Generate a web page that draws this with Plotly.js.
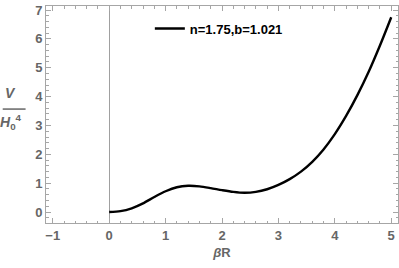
<!DOCTYPE html>
<html>
<head>
<meta charset="utf-8">
<script src="https://cdn.plot.ly/plotly-3.0.1.min.js"></script>
<style>html,body{margin:0;padding:0;background:#fff;}#chart{width:399px;height:268px;}</style>
</head>
<body>
<div id="chart"></div>
<script>
var seriesName = "n=1.75,b=1.021";
var betaR = [0, 0.2, 0.4, 0.6, 0.8, 1.0, 1.2, 1.4, 1.6, 1.8, 2.0, 2.2, 2.4, 2.6, 2.8, 3.0, 3.2, 3.4, 3.6, 3.8, 4.0, 4.2, 4.4, 4.6, 4.8, 5.0];
var potential = [0, 0.03, 0.13, 0.3, 0.52, 0.72, 0.86, 0.91, 0.89, 0.83, 0.76, 0.70, 0.67, 0.70, 0.79, 0.94, 1.14, 1.40, 1.74, 2.17, 2.70, 3.33, 4.05, 4.86, 5.77, 6.75];
var xTicks = [-1, 0, 1, 2, 3, 4, 5];
var yTicks = [0, 1, 2, 3, 4, 5, 6, 7];

var fontFam = 'Liberation Sans, Arial, sans-serif';
var tickCol = '#666666';
var frameCol = '#a6a6a6';

var trace = {
  x: betaR, y: potential, type: 'scatter', mode: 'lines',
  name: seriesName,
  line: {color: '#000000', width: 2.4, shape: 'spline', smoothing: 0.8}
};

var axisCommon = {
  showgrid: false, showline: true, linecolor: frameCol, linewidth: 1,
  mirror: 'allticks', ticks: 'inside', ticklen: 5, tickcolor: frameCol, tickwidth: 1,
  tickfont: {family: fontFam, size: 13, color: tickCol, weight: 'bold'},
  tickmode: 'array',
  minor: {ticks: 'inside', ticklen: 2.5, tickcolor: frameCol, dtick: 0.2, showgrid: false}
};

var layout = {
  width: 399, height: 268,
  margin: {l: 46, r: 1, t: 6, b: 45},
  paper_bgcolor: '#ffffff', plot_bgcolor: '#ffffff',
  showlegend: true,
  legend: {x: 0.295, y: 0.965, xanchor: 'left', yanchor: 'top', bgcolor: 'rgba(0,0,0,0)',
           font: {family: fontFam, size: 13, color: '#000', weight: 'bold'}},
  xaxis: Object.assign({}, axisCommon, {
    range: [-1.12, 5.12], tickvals: xTicks, ticktext: xTicks.map(function(v){return v < 0 ? '\u2212' + Math.abs(v) : String(v);}),
    zeroline: true, zerolinecolor: '#a0a0a0', zerolinewidth: 1,
    title: {text: '<i>\u03b2</i>R', font: {family: fontFam, size: 13, color: tickCol, weight: 'bold'}, standoff: 6}
  }),
  yaxis: Object.assign({}, axisCommon, {
    range: [-0.38, 7.14], tickvals: yTicks, ticktext: yTicks.map(String), zeroline: false
  }),
  annotations: [
    {xref: 'paper', yref: 'paper', x: -0.1, y: 0.6, text: '<i>V</i>', showarrow: false,
     font: {family: fontFam, size: 14, color: tickCol, weight: 'bold'}, xanchor: 'center', yanchor: 'middle'},
    {xref: 'paper', yref: 'paper', x: -0.1, y: 0.465, text: '<i>H</i><sub>0</sub><sup>4</sup>', showarrow: false,
     font: {family: fontFam, size: 14, color: tickCol, weight: 'bold'}, xanchor: 'center', yanchor: 'middle'}
  ],
  shapes: [
    {type: 'line', xref: 'paper', yref: 'paper', x0: -0.123, x1: -0.058, y0: 0.525, y1: 0.525,
     line: {color: tickCol, width: 1.5}}
  ]
};

Plotly.newPlot('chart', [trace], layout, {displayModeBar: false, staticPlot: true});
</script>
</body>
</html>
